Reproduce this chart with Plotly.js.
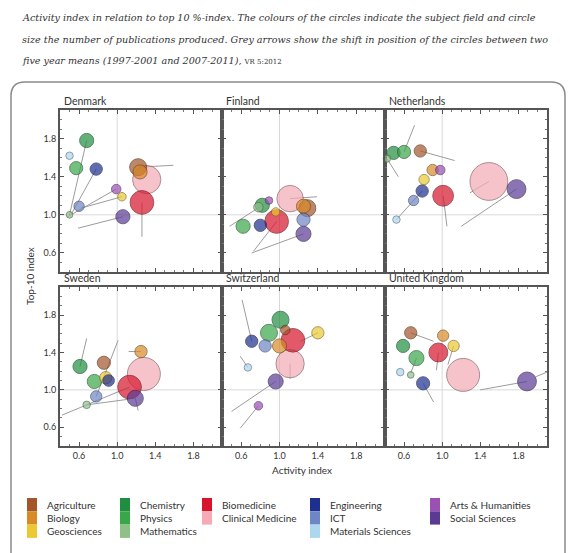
<!DOCTYPE html>
<html>
<head>
<meta charset="utf-8">
<script src="https://cdn.plot.ly/plotly-3.0.1.min.js"></script>
<style>html,body{margin:0;padding:0;background:#fff;}#chart{width:574px;height:553px;}</style>
</head>
<body>
<div id="chart"></div>
<script>
// ---------- DATA ----------
const fields = ['Agriculture','Biology','Geosciences','Chemistry','Physics','Mathematics','Biomedicine','Clinical Medicine','Engineering','ICT','Materials Sciences','Arts & Humanities','Social Sciences'];
const fieldColors = ['#a4552a','#d88a28','#ecc832','#1f8f3f','#3aa64a','#8fc08a','#d7142c','#f5aab5','#1d2f8f','#6f86c6','#acd7ee','#9b50b4','#5b3a93'];
const countries = ['Denmark','Finland','Netherlands','Sweden','Switzerland','United Kingdom'];
const tickValues = [0.6, 1.0, 1.4, 1.8];
const tickLabels = ['0.6','1.0','1.4','1.8'];

// order of values: same as fields
// Denmark
const denmarkActivity = [1.22,1.24,1.05,0.68,0.57,0.50,1.26,1.31,0.78,0.60,0.50,0.99,1.06];
const denmarkTop10    = [1.50,1.45,1.19,1.78,1.49,1.00,1.13,1.37,1.48,1.09,1.62,1.27,0.98];
const denmarkPubs     = [2160,1500,540,1500,1300,330,4200,6000,1130,800,420,670,1500];
const denmarkActivityOld = [1.59,null,0.62,0.50,null,null,1.26,null,0.52,null,null,0.48,0.59];
const denmarkTop10Old    = [1.52,null,1.07,1.00,null,null,0.77,null,1.01,null,null,0.98,0.86];
// Finland
const finlandActivity = [1.29,1.25,0.96,0.82,0.62,0.78,0.97,1.11,0.80,1.25,null,0.89,1.25];
const finlandTop10    = [1.07,1.09,1.03,1.10,0.88,1.08,0.93,1.17,0.89,0.95,null,1.15,0.80];
const finlandPubs     = [2160,1500,540,1500,1500,670,4180,5240,1130,1300,null,420,1700];
const finlandActivityOld = [null,null,null,0.48,null,null,0.73,1.39,null,null,null,null,0.71];
const finlandTop10Old    = [null,null,null,0.88,null,null,0.62,1.19,null,null,null,null,0.60];
// Netherlands
const netherlandsActivity = [0.77,0.90,0.81,0.49,0.60,0.42,1.01,1.49,0.79,0.70,0.52,0.98,1.78];
const netherlandsTop10    = [1.67,1.47,1.37,1.65,1.66,1.59,1.20,1.35,1.25,1.15,0.95,1.47,1.27];
const netherlandsPubs     = [1130,960,800,1300,1300,420,3240,10700,1130,800,420,670,2670];
const netherlandsActivityOld = [1.13,null,null,null,0.71,0.54,1.05,1.29,0.52,null,null,null,1.20];
const netherlandsTop10Old    = [1.57,null,null,null,1.94,1.40,0.88,1.23,0.95,null,null,null,0.88];
// Sweden
const swedenActivity = [0.86,1.25,0.88,0.61,0.76,0.68,1.13,1.28,0.91,0.78,null,null,1.19];
const swedenTop10    = [1.29,1.41,1.13,1.25,1.09,0.84,1.03,1.17,1.10,0.93,null,null,0.91];
const swedenPubs     = [1300,1130,1130,1500,1500,420,4180,8170,1000,960,null,null,1930];
const swedenActivityOld = [null,1.12,null,0.68,null,1.12,0.42,null,null,1.01,null,null,1.22];
const swedenTop10Old    = [null,1.41,null,1.55,null,0.90,0.73,null,null,1.53,null,null,0.78];
// Switzerland
const switzerlandActivity = [1.06,1.00,1.40,1.01,0.89,null,1.14,1.11,0.71,0.85,0.67,0.78,0.96];
const switzerlandTop10    = [1.64,1.47,1.61,1.75,1.61,null,1.53,1.28,1.52,1.47,1.24,0.83,1.09];
const switzerlandPubs     = [670,1500,1130,2160,2160,null,4180,6000,1130,1130,420,540,1700];
const switzerlandActivityOld = [null,null,1.22,null,null,null,null,1.11,0.61,null,0.59,0.59,0.50];
const switzerlandTop10Old    = [null,null,1.52,null,null,null,null,1.12,1.96,null,1.36,0.59,0.77];
// United Kingdom
const ukActivity = [0.67,1.01,1.12,0.59,0.73,0.67,0.96,1.22,0.80,null,0.56,2.32,1.89];
const ukTop10    = [1.61,1.58,1.47,1.47,1.34,1.16,1.40,1.16,1.07,null,1.19,1.28,1.09];
const ukPubs     = [1130,960,960,1300,1700,330,2670,8170,1300,null,420,960,2670];
const ukActivityOld = [0.91,null,1.06,null,0.67,null,0.94,null,0.91,null,null,1.98,1.40];
const ukTop10Old    = [1.52,null,1.27,null,1.18,null,1.21,null,0.87,null,null,1.14,1.00];

const countryData = [
  [denmarkActivity, denmarkTop10, denmarkPubs, denmarkActivityOld, denmarkTop10Old],
  [finlandActivity, finlandTop10, finlandPubs, finlandActivityOld, finlandTop10Old],
  [netherlandsActivity, netherlandsTop10, netherlandsPubs, netherlandsActivityOld, netherlandsTop10Old],
  [swedenActivity, swedenTop10, swedenPubs, swedenActivityOld, swedenTop10Old],
  [switzerlandActivity, switzerlandTop10, switzerlandPubs, switzerlandActivityOld, switzerlandTop10Old],
  [ukActivity, ukTop10, ukPubs, ukActivityOld, ukTop10Old]
];

// ---------- LAYOUT HELPERS ----------
const W = 574, H = 553;
const px = v => v / W;
const py = v => 1 - v / H;
const colEdges = [[60,222],[222,385],[385,547]];
const rowEdges = [[110,272],[287,446]];

function darker(hex, f) {
  const n = parseInt(hex.slice(1), 16);
  const r = Math.round(((n >> 16) & 255) * f), g = Math.round(((n >> 8) & 255) * f), b = Math.round((n & 255) * f);
  return 'rgb(' + r + ',' + g + ',' + b + ')';
}

const traces = [];
const layout = {
  width: W, height: H,
  margin: {l:0, r:0, t:0, b:0},
  paper_bgcolor: '#fff', plot_bgcolor: '#fff',
  showlegend: false,
  font: {family: 'Lato, sans-serif', color: '#333'},
  shapes: [], annotations: []
};

countries.forEach((name, i) => {
  const col = i % 3, row = Math.floor(i / 3);
  const sfx = i === 0 ? '' : String(i + 1);
  const xa = 'x' + sfx, ya = 'y' + sfx;
  const [L, R] = colEdges[col], [T, B] = rowEdges[row];
  const axBase = {
    range: [0.4, 2.1], showgrid: false, zeroline: false,
    showline: true, linecolor: '#555', linewidth: 2, mirror: 'allticks',
    ticks: 'inside', ticklen: 4, tickwidth: 1, tickcolor: '#555',
    tickvals: tickValues, ticktext: tickLabels,
    minor: {tickvals: [0.5,0.7,0.8,0.9,1.1,1.2,1.3,1.5,1.6,1.7,1.9,2.0], ticks: 'inside', ticklen: 2, tickcolor: '#777'},
    tickfont: {family: 'Lato, sans-serif', size: 9, color: '#333'}
  };
  layout['xaxis' + sfx] = Object.assign({}, axBase, {
    domain: [px(L), px(R)], anchor: ya, showticklabels: row === 1
  });
  layout['yaxis' + sfx] = Object.assign({}, axBase, {
    domain: [py(B), py(T)], anchor: xa, showticklabels: col === 0
  });
  // reference lines at 1.0
  layout.shapes.push({type:'line', xref: xa, yref: ya + ' domain', x0:1, x1:1, y0:0, y1:1, line:{color:'#d9d9d9', width:1}, layer:'below'});
  layout.shapes.push({type:'line', xref: xa + ' domain', yref: ya, x0:0, x1:1, y0:1, y1:1, line:{color:'#d9d9d9', width:1}, layer:'below'});
  // panel title
  layout.annotations.push({text: name, xref:'paper', yref:'paper', x: px(L + 2), y: py(T - 1), xanchor:'left', yanchor:'bottom', showarrow:false, font:{family:'Lato, sans-serif', size:10.5, color:'#333'}});

  const [ax, ay, pubs, axo, ayo] = countryData[i];
  // grey shift lines
  const lx = [], ly = [];
  fields.forEach((f, k) => {
    if (ax[k] != null && axo[k] != null) {
      lx.push(axo[k], ax[k], null); ly.push(ayo[k], ay[k], null);
    }
  });
  traces.push({type:'scatter', mode:'lines', x: lx, y: ly, xaxis: xa, yaxis: ya, line:{color:'#9c9c9c', width:1}, hoverinfo:'skip'});
  // circles, largest first
  const idx = fields.map((f, k) => k).filter(k => ax[k] != null).sort((a, b) => pubs[b] - pubs[a]);
  traces.push({
    type:'scatter', mode:'markers', xaxis: xa, yaxis: ya, cliponaxis: false,
    x: idx.map(k => ax[k]), y: idx.map(k => ay[k]),
    text: idx.map(k => fields[k]),
    marker: {
      size: idx.map(k => pubs[k]), sizemode: 'area', sizeref: 15,
      color: idx.map(k => fieldColors[k]),
      line: {color: idx.map(k => darker(fieldColors[k], 0.55)), width: 1}
    },
    hovertemplate: '%{text}<br>Activity %{x}<br>Top-10 %{y}<extra>' + name + '</extra>'
  });
});

// axis titles
layout.annotations.push({text:'Top-10 index', xref:'paper', yref:'paper', x: px(30), y: py(276), xanchor:'center', yanchor:'middle', textangle:-90, showarrow:false, font:{family:'Lato, sans-serif', size:10, color:'#333'}});
layout.annotations.push({text:'Activity index', xref:'paper', yref:'paper', x: px(302), y: py(470), xanchor:'center', yanchor:'middle', showarrow:false, font:{family:'Lato, sans-serif', size:10, color:'#333'}});

// caption
const captionLines = [
  'Activity index in relation to top 10 %-index. The colours of the circles indicate the subject field and circle',
  'size the number of publications produced. Grey arrows show the shift in position of the circles between two',
  'five year means (1997-2001 and 2007-2011), '
];
const captionY = [18, 39, 60];
captionLines.forEach((t, k) => {
  const txt = '<i>' + t + '</i>' + (k === 2 ? '<span style="font-size:7px">VR 5:2012</span>' : '');
  layout.annotations.push({text: txt, xref:'paper', yref:'paper', x: px(20), y: py(captionY[k]), xanchor:'left', yanchor:'middle', showarrow:false, font:{family:'DejaVu Serif, serif', size:9.6, color:'#333'}});
});

// frame (rounded top corners)
const fl = px(11), fr = px(565), ft = py(82), fb = py(560), rx = px(14), ry = 14 / H;
layout.shapes.push({type:'path', xref:'paper', yref:'paper',
  path: 'M ' + fl + ',' + fb + ' L ' + fl + ',' + (ft - ry) + ' Q ' + fl + ',' + ft + ' ' + (fl + rx) + ',' + ft +
        ' L ' + (fr - rx) + ',' + ft + ' Q ' + fr + ',' + ft + ' ' + fr + ',' + (ft - ry) + ' L ' + fr + ',' + fb,
  line:{color:'#8a8a8a', width:1.5}});

// legend
const legendCols = [[0,1,2],[3,4,5],[6,7],[8,9,10],[11,12]];
const legendX = [27, 120, 202, 310, 430];
const legendRowTop = 498, legendRowH = 13.3;
legendCols.forEach((items, c) => {
  items.forEach((k, r) => {
    const y0 = legendRowTop + r * legendRowH;
    layout.shapes.push({type:'rect', xref:'paper', yref:'paper', x0: px(legendX[c]), x1: px(legendX[c] + 10), y0: py(y0 + legendRowH), y1: py(y0), fillcolor: fieldColors[k], line:{width:0}});
    layout.annotations.push({text: fields[k], xref:'paper', yref:'paper', x: px(legendX[c] + 18), y: py(y0 + legendRowH / 2), xanchor:'left', yanchor:'middle', showarrow:false, font:{family:'Lato, sans-serif', size:10, color:'#333'}});
  });
});

Plotly.newPlot('chart', traces, layout, {displayModeBar:false, staticPlot:true});
</script>
</body>
</html>
